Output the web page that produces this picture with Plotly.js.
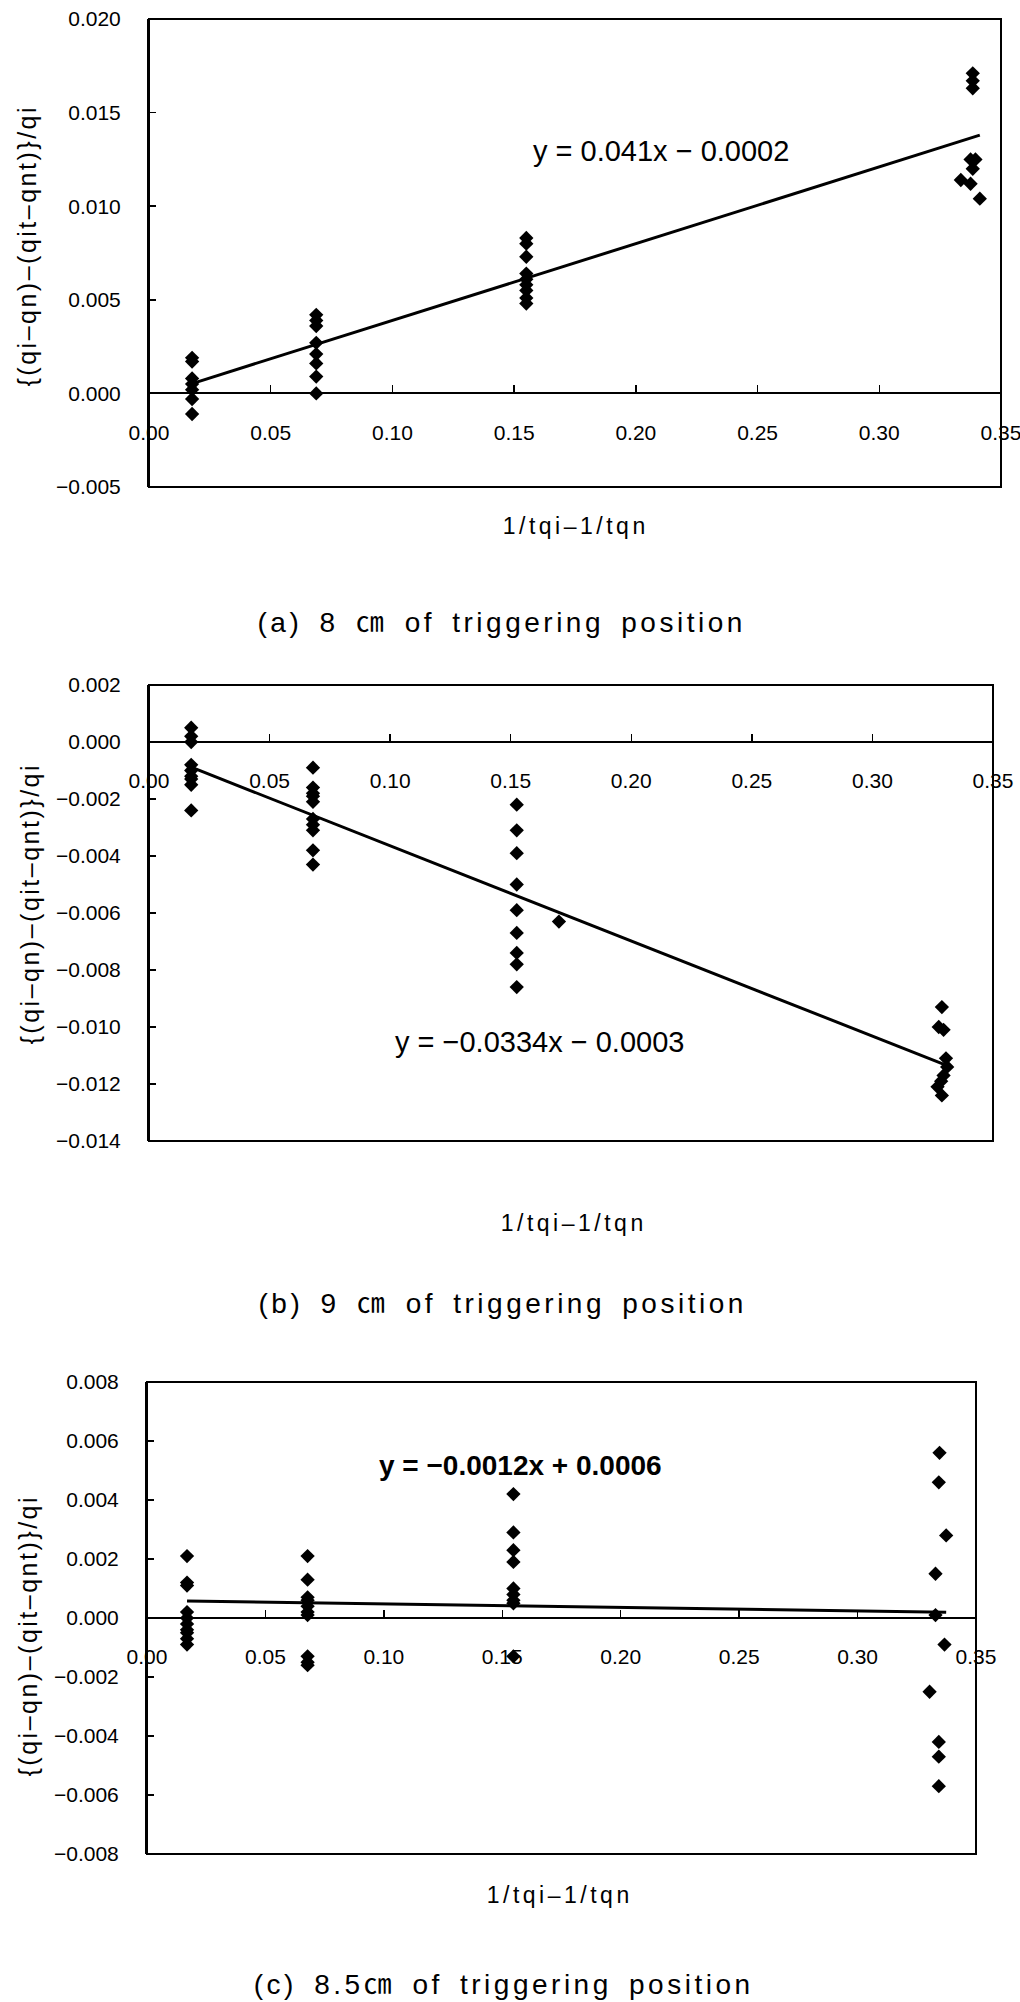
<!DOCTYPE html>
<html>
<head>
<meta charset="utf-8">
<script src="https://cdn.plot.ly/plotly-3.0.1.min.js"></script>
<style>
  html, body { margin: 0; padding: 0; background: #fff; }
  #chart { width: 1020px; height: 2002px; }
  g.annotation[data-index="0"] text, g.annotation[data-index="1"] text, g.annotation[data-index="2"] text { letter-spacing: 3.5px; word-spacing: 6px; }
  g.annotation[data-index="3"] text, g.annotation[data-index="4"] text, g.annotation[data-index="5"] text { letter-spacing: 3.5px; }
  g.annotation[data-index="6"] text, g.annotation[data-index="7"] text, g.annotation[data-index="8"] text { letter-spacing: 2.5px; }
</style>
</head>
<body>
<div id="chart"></div>
<script>
// ---------- data: panel (a) 8 cm ----------
const xA = [0.0177,0.0177,0.0177,0.0177,0.0177,0.0177,0.0177,
            0.0687,0.0687,0.0687,0.0687,0.0687,0.0687,0.0687,0.0687,
            0.155,0.155,0.155,0.155,0.155,0.155,0.155,0.155,0.155,
            0.3384,0.3384,0.3384,0.3375,0.3395,0.3384,0.3335,0.3375,0.3413];
const yA = [0.0019,0.0017,0.0008,0.0005,0.0002,-0.0003,-0.0011,
            0.0042,0.0039,0.0036,0.0027,0.0021,0.0016,0.0009,0.0000,
            0.0083,0.0080,0.0073,0.0064,0.0061,0.0058,0.0055,0.0051,0.0048,
            0.0171,0.0167,0.0163,0.0125,0.0125,0.0120,0.0114,0.0112,0.0104];
const slopeA = 0.041, interceptA = -0.0002;
const eqA = "y = 0.041x \u2212 0.0002";

// ---------- data: panel (b) 9 cm ----------
const xB = [0.0175,0.0175,0.0175,0.0175,0.0175,0.0175,0.0175,0.0175,0.0175,
            0.068,0.068,0.068,0.068,0.068,0.068,0.068,0.068,0.068,0.068,
            0.1525,0.1525,0.1525,0.1525,0.1525,0.1525,0.1525,0.1525,0.1525,0.170,
            0.3288,0.3275,0.3295,0.3305,0.331,0.3295,0.3285,0.327,0.3288];
const yB = [0.0005,0.0002,0.0000,-0.0008,-0.0010,-0.0012,-0.0013,-0.0015,-0.0024,
            -0.0009,-0.0016,-0.0018,-0.0019,-0.0021,-0.0027,-0.0029,-0.0031,-0.0038,-0.0043,
            -0.0022,-0.0031,-0.0039,-0.0050,-0.0059,-0.0067,-0.0074,-0.0078,-0.0086,-0.0063,
            -0.0093,-0.0100,-0.0101,-0.0111,-0.0114,-0.0117,-0.0119,-0.0121,-0.0124];
const slopeB = -0.0334, interceptB = -0.0003;
const eqB = "y = \u22120.0334x \u2212 0.0003";

// ---------- data: panel (c) 8.5 cm ----------
const xC = [0.0169,0.0169,0.0169,0.0169,0.0169,0.0169,0.0169,0.0169,0.0169,0.0169,
            0.0678,0.0678,0.0678,0.0678,0.0678,0.0678,0.0678,0.0678,0.0678,0.0678,
            0.1547,0.1547,0.1547,0.1547,0.1547,0.1547,0.1547,0.1547,0.1547,
            0.3346,0.3343,0.3374,0.3329,0.3329,0.3367,0.3304,0.3343,0.3343,0.3343];
const yC = [0.0021,0.0012,0.0011,0.0002,0.0000,-0.0002,-0.0004,-0.0005,-0.0007,-0.0009,
            0.0021,0.0013,0.0007,0.0006,0.0004,0.0002,0.0001,-0.0013,-0.0015,-0.0016,
            0.0042,0.0029,0.0023,0.0019,0.0010,0.0008,0.0006,0.0005,-0.0013,
            0.0056,0.0046,0.0028,0.0015,0.0001,-0.0009,-0.0025,-0.0042,-0.0047,-0.0057];
const slopeC = -0.0012, interceptC = 0.0006;
const eqC = "<b>y = \u22120.0012x + 0.0006</b>";

// ---------- text ----------
const xTitle = "1/tqi\u20131/tqn";
const yTitle = "{(qi\u2013qn)\u2013(qit\u2013qnt)}/qi";
const captions = ["(a) 8 \u339D of triggering position",
                  "(b) 9 \u339D of triggering position",
                  "(c) 8.5\u339D of triggering position"];
const xTickVals = [0, 0.05, 0.10, 0.15, 0.20, 0.25, 0.30, 0.35];

// ---------- layout helpers ----------
const W = 1020, H = 2002;
const FONT = "Liberation Sans, Arial, Noto Sans CJK KR, sans-serif";
const px = p => p / W;
const py = p => 1 - p / H;

// panel frames in pixels
const frames = [
  {l:149, r:1001, t:19,   b:487,  yr:[-0.005, 0.020], dy:0.005, fmt:'.3f'},
  {l:149, r:993,  t:685,  b:1141, yr:[-0.014, 0.002], dy:0.002, fmt:'.3f'},
  {l:147, r:976,  t:1382, b:1854, yr:[-0.008, 0.008], dy:0.002, fmt:'.3f'}
];

const tickFont = {family: FONT, size: 21, color: '#000'};
const layout = {
  width: W, height: H,
  margin: {l:0, r:0, t:0, b:0, pad:0},
  paper_bgcolor: '#fff', plot_bgcolor: '#fff',
  showlegend: false,
  font: {family: FONT, color: '#000'},
  shapes: [], annotations: []
};

frames.forEach((f, i) => {
  const sfx = i === 0 ? '' : String(i + 1);
  const yd = [py(f.b), py(f.t)];
  const zeroFrac = (0 - f.yr[0]) / (f.yr[1] - f.yr[0]);
  layout['xaxis' + sfx] = {
    domain: [px(f.l), px(f.r)],
    range: [0, 0.35],
    tickvals: xTickVals, tickformat: '.2f',
    anchor: 'free', position: yd[0] + zeroFrac * (yd[1] - yd[0]),
    showline: true, linecolor: '#000', linewidth: 2,
    ticks: 'inside', ticklen: 7, tickwidth: 1.5, tickcolor: '#000',
    showgrid: false, zeroline: false,
    tickfont: tickFont, ticklabelstandoff: 20, ticklabeloverflow: 'allow',
    fixedrange: true
  };
  layout['yaxis' + sfx] = {
    domain: yd,
    range: f.yr, dtick: f.dy, tick0: 0, tickformat: f.fmt,
    anchor: 'x' + sfx,
    showline: true, linecolor: '#000', linewidth: 2,
    ticks: 'inside', ticklen: 7, tickwidth: 1.5, tickcolor: '#000',
    showgrid: false, zeroline: false,
    tickfont: tickFont, ticklabelstandoff: 22, ticklabeloverflow: 'allow',
    fixedrange: true
  };
  layout.shapes.push({
    type: 'rect', xref: 'x' + sfx + ' domain', yref: 'y' + sfx + ' domain',
    x0: 0, x1: 1, y0: 0, y1: 1, line: {color: '#000', width: 2}, layer: 'above'
  });
});

// annotation positions (pixels)
const capPos = [[501, 622], [502, 1303], [503, 1984]];
const xtPos  = [[575, 526], [573, 1223], [559, 1895]];
const ytPos  = [[27, 246], [30, 904], [28, 1636]];
const eqPos  = [[661, 151], [539, 1042], [520, 1465]];
const eqTexts = [eqA, eqB, eqC];

capPos.forEach(p => layout.annotations.push({
  xref:'paper', yref:'paper', x:px(p[0]), y:py(p[1]), xanchor:'center', yanchor:'middle',
  text: captions[layout.annotations.length], showarrow:false,
  font:{family: FONT, size: 28, color:'#000'}
}));
xtPos.forEach(p => layout.annotations.push({
  xref:'paper', yref:'paper', x:px(p[0]), y:py(p[1]), xanchor:'center', yanchor:'middle',
  text: xTitle, showarrow:false, font:{family: FONT, size: 23, color:'#000'}
}));
ytPos.forEach(p => layout.annotations.push({
  xref:'paper', yref:'paper', x:px(p[0]), y:py(p[1]), xanchor:'center', yanchor:'middle',
  text: yTitle, textangle: -90, showarrow:false, font:{family: FONT, size: 25, color:'#000'}
}));
eqPos.forEach((p, i) => layout.annotations.push({
  xref:'paper', yref:'paper', x:px(p[0]), y:py(p[1]), xanchor:'center', yanchor:'middle',
  text: eqTexts[i], showarrow:false, font:{family: FONT, size: i === 2 ? 28 : 29, color:'#000'}
}));

// ---------- traces ----------
const marker = {symbol: 'diamond', size: 11, color: '#000', line: {width: 0}};
const sets = [[xA, yA, slopeA, interceptA], [xB, yB, slopeB, interceptB], [xC, yC, slopeC, interceptC]];
const data = [];
sets.forEach((s, i) => {
  const sfx = i === 0 ? '' : String(i + 1);
  const xmin = Math.min(...s[0]), xmax = Math.max(...s[0]);
  data.push({
    type: 'scatter', mode: 'markers', x: s[0], y: s[1],
    xaxis: 'x' + sfx, yaxis: 'y' + sfx, marker: marker, cliponaxis: false, hoverinfo: 'x+y'
  });
  data.push({
    type: 'scatter', mode: 'lines', x: [xmin, xmax], y: [s[2] * xmin + s[3], s[2] * xmax + s[3]],
    xaxis: 'x' + sfx, yaxis: 'y' + sfx, line: {color: '#000', width: 3}, hoverinfo: 'skip'
  });
});

Plotly.newPlot('chart', data, layout, {displayModeBar: false, staticPlot: true});
</script>
</body>
</html>
